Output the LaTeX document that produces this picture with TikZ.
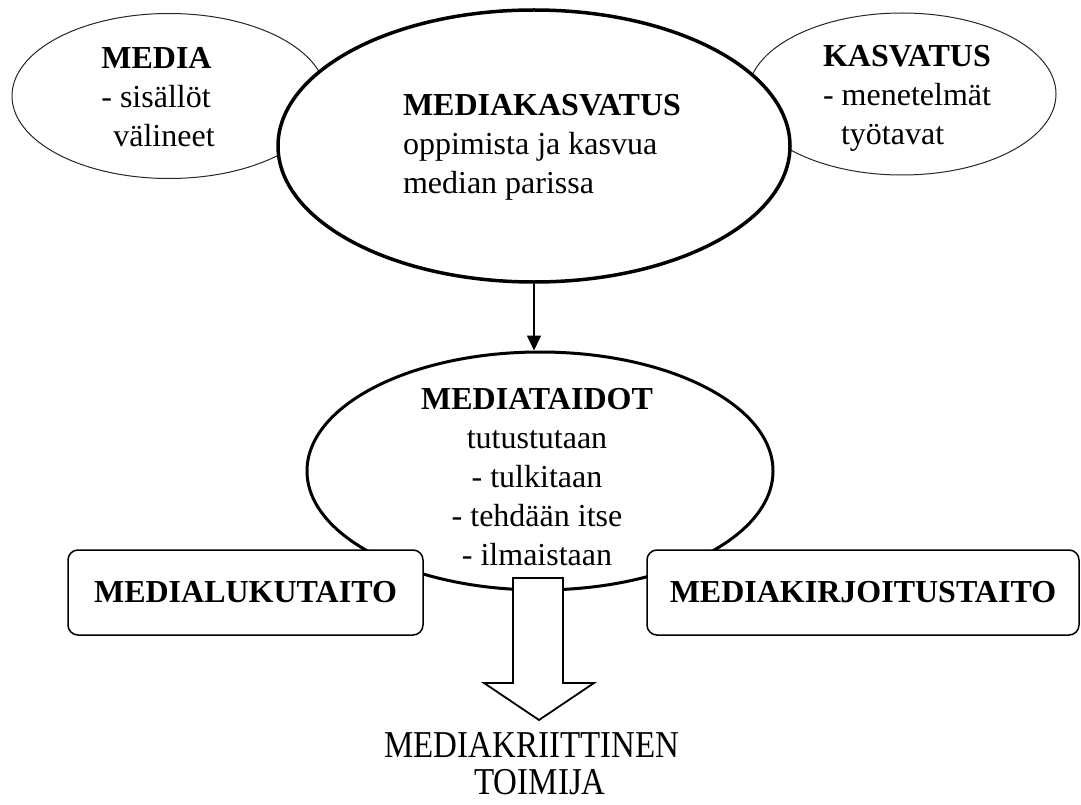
\documentclass[tikz,border=0pt]{standalone}
\usepackage{fontspec}
\setmainfont{Liberation Serif}
\usepackage{graphicx}
\usetikzlibrary{arrows.meta,shapes.geometric}
\begin{document}
\begin{tikzpicture}[x=1pt,y=-1pt,
  sideell/.style={ellipse, draw=black!85, line width=1pt, inner sep=0pt},
  mainell/.style={ellipse, draw, fill=white, line width=3.5pt, inner sep=0pt},
  skillbox/.style={draw, fill=white, rounded corners=10pt, line width=1.5pt, inner sep=0pt,
    font=\fontsize{32}{39}\selectfont\bfseries},
  txt/.style={inner sep=0pt, font=\fontsize{32}{39}\selectfont},
  bigtxt/.style={inner sep=0pt, anchor=base, font=\fontsize{33}{42}\selectfont},
  blockarrow/.style={draw, fill=white, line width=1.8pt, line join=miter},
  thinarrow/.style={line width=1.5pt, -{Triangle[length=15pt,width=14pt]}},
]
\useasboundingbox (0,0) rectangle (1081,805);

% side ellipses
\node[sideell, minimum width=314pt, minimum height=165pt] (media) at (169,96) {};
\node[sideell, minimum width=308pt, minimum height=162pt] (kasv) at (902,94) {};

% main ellipses
\node[mainell, minimum width=512pt, minimum height=272pt] (mk) at (534,146) {};
\node[mainell, line width=3pt, minimum width=466pt, minimum height=238pt] (taidot) at (540,471) {};

% texts in ellipses
\node[txt, align=left] (mediatxt) at (158,97) {\textbf{MEDIA}\\- sisällöt\\\hspace*{12pt}välineet};
\node[txt, align=left] (kasvtxt) at (907,98) {\textbf{KASVATUS}\\- menetelmät\\\hspace*{18pt}työtavat};
\node[txt, align=left] (mktxt) at (542,147) {\textbf{MEDIAKASVATUS}\\oppimista ja kasvua\\median parissa};
\node[txt, align=center] (taidottxt) at (537,477) {\textbf{MEDIATAIDOT}\\tutustutaan\\- tulkitaan\\- tehdään itse\\- ilmaistaan};

% arrow between the main ellipses
\draw[thinarrow] (mk.south) -- (mk.south |- taidot.north);

% skill boxes
\node[skillbox, minimum width=355pt, minimum height=85pt] (luku) at (245.5,592.5) {MEDIALUKUTAITO};
\node[skillbox, minimum width=432pt, minimum height=85pt] (kirj) at (863,592.5) {MEDIAKIRJOITUSTAITO};

% block arrow
\coordinate (bt) at (538,578);
\draw[blockarrow] (bt) ++(-25,0) -- ++(50,0) -- ++(0,105) -- ++(31,0) -- (539,720)
  -- (484,683) -- ++(29,0) -- cycle;

% result text
\node[bigtxt] (krit) at (532,757) {\scalebox{1}[1.15]{MEDIAKRIITTINEN}};
\node[bigtxt] (toimija) at (540,794) {\scalebox{1}[1.15]{TOIMIJA}};
\end{tikzpicture}
\end{document}
